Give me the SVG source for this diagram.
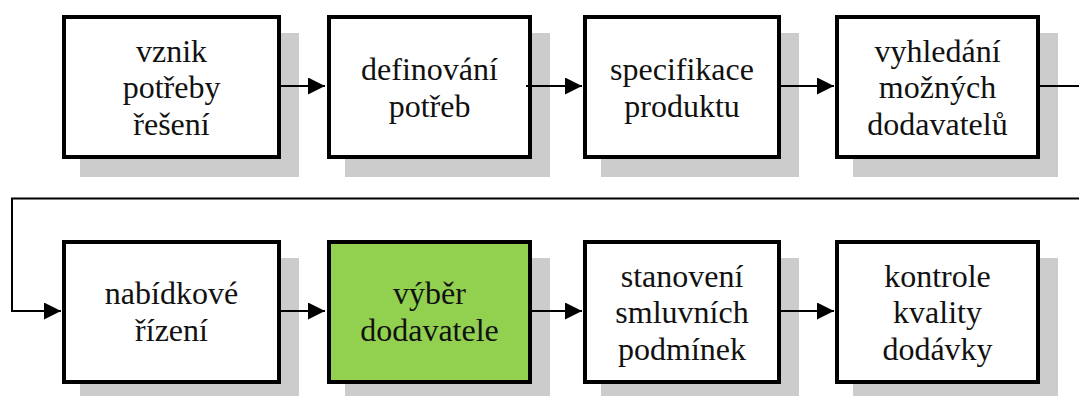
<svg xmlns="http://www.w3.org/2000/svg" width="1079" height="396" viewBox="0 0 1079 396">
<style>
.sh{fill:#cccccc;stroke:none}
.bx{fill:#ffffff;stroke:#000000;stroke-width:4}
.hl{fill:#92d050}
.t{font-size:32px;fill:#111111;text-anchor:middle}
.c{fill:none;stroke:#000000;stroke-width:2}
</style>
<defs>
<marker id="ah" markerUnits="userSpaceOnUse" markerWidth="17" markerHeight="17" refX="17" refY="8.5" orient="auto">
<path d="M0,0 L17,8.5 L0,17 Z" fill="#000000"/>
</marker>
</defs>
<rect width="1079" height="396" fill="#ffffff"/>
<g font-family="Liberation Serif, Tinos, DejaVu Serif, Times New Roman, serif">
<g id="n1">
<rect class="sh" x="80" y="33" width="219" height="144"/>
<rect class="bx" x="64" y="17" width="215" height="140"/>
<text class="t" x="171.5" y="61.7">vznik</text>
<text class="t" x="171.5" y="98.3">potřeby</text>
<text class="t" x="171.5" y="135">řešení</text>
</g>
<g id="n2">
<rect class="sh" x="345" y="33" width="205" height="144"/>
<rect class="bx" x="329" y="17" width="201" height="140"/>
<text class="t" x="429.5" y="80">definování</text>
<text class="t" x="429.5" y="116.7">potřeb</text>
</g>
<g id="n3">
<rect class="sh" x="601" y="33" width="198" height="144"/>
<rect class="bx" x="585" y="17" width="194" height="140"/>
<text class="t" x="682" y="80">specifikace</text>
<text class="t" x="682" y="116.7">produktu</text>
</g>
<g id="n4">
<rect class="sh" x="853" y="33" width="205" height="144"/>
<rect class="bx" x="837" y="17" width="201" height="140"/>
<text class="t" x="937.5" y="61.7">vyhledání</text>
<text class="t" x="937.5" y="98.3">možných</text>
<text class="t" x="937.5" y="135">dodavatelů</text>
</g>
<g id="n5">
<rect class="sh" x="80" y="258" width="219" height="144"/>
<rect class="bx" x="64" y="242" width="215" height="140"/>
<text class="t" x="171.5" y="304">nabídkové</text>
<text class="t" x="171.5" y="340.7">řízení</text>
</g>
<g id="n6">
<rect class="sh" x="345" y="258" width="205" height="144"/>
<rect class="bx hl" x="329" y="242" width="201" height="140"/>
<text class="t" x="429.5" y="304">výběr</text>
<text class="t" x="429.5" y="340.7">dodavatele</text>
</g>
<g id="n7">
<rect class="sh" x="601" y="258" width="198" height="144"/>
<rect class="bx" x="585" y="242" width="194" height="140"/>
<text class="t" x="682" y="286.7">stanovení</text>
<text class="t" x="682" y="323.3">smluvních</text>
<text class="t" x="682" y="360">podmínek</text>
</g>
<g id="n8">
<rect class="sh" x="853" y="258" width="205" height="144"/>
<rect class="bx" x="837" y="242" width="201" height="140"/>
<text class="t" x="937.5" y="286.7">kontrole</text>
<text class="t" x="937.5" y="323.3">kvality</text>
<text class="t" x="937.5" y="360">dodávky</text>
</g>
</g>
<g id="connectors">
<line class="c" x1="279" y1="86" x2="325" y2="86" marker-end="url(#ah)"/>
<line class="c" x1="526" y1="86" x2="582" y2="86" marker-end="url(#ah)"/>
<line class="c" x1="779" y1="86" x2="834" y2="86" marker-end="url(#ah)"/>
<path class="c" d="M1038,86 H1079 M1079,198.5 H12 V311 H61" marker-end="url(#ah)"/>
<line class="c" x1="279" y1="311" x2="325" y2="311" marker-end="url(#ah)"/>
<line class="c" x1="530" y1="311" x2="582" y2="311" marker-end="url(#ah)"/>
<line class="c" x1="779" y1="311" x2="834" y2="311" marker-end="url(#ah)"/>
</g>
</svg>
